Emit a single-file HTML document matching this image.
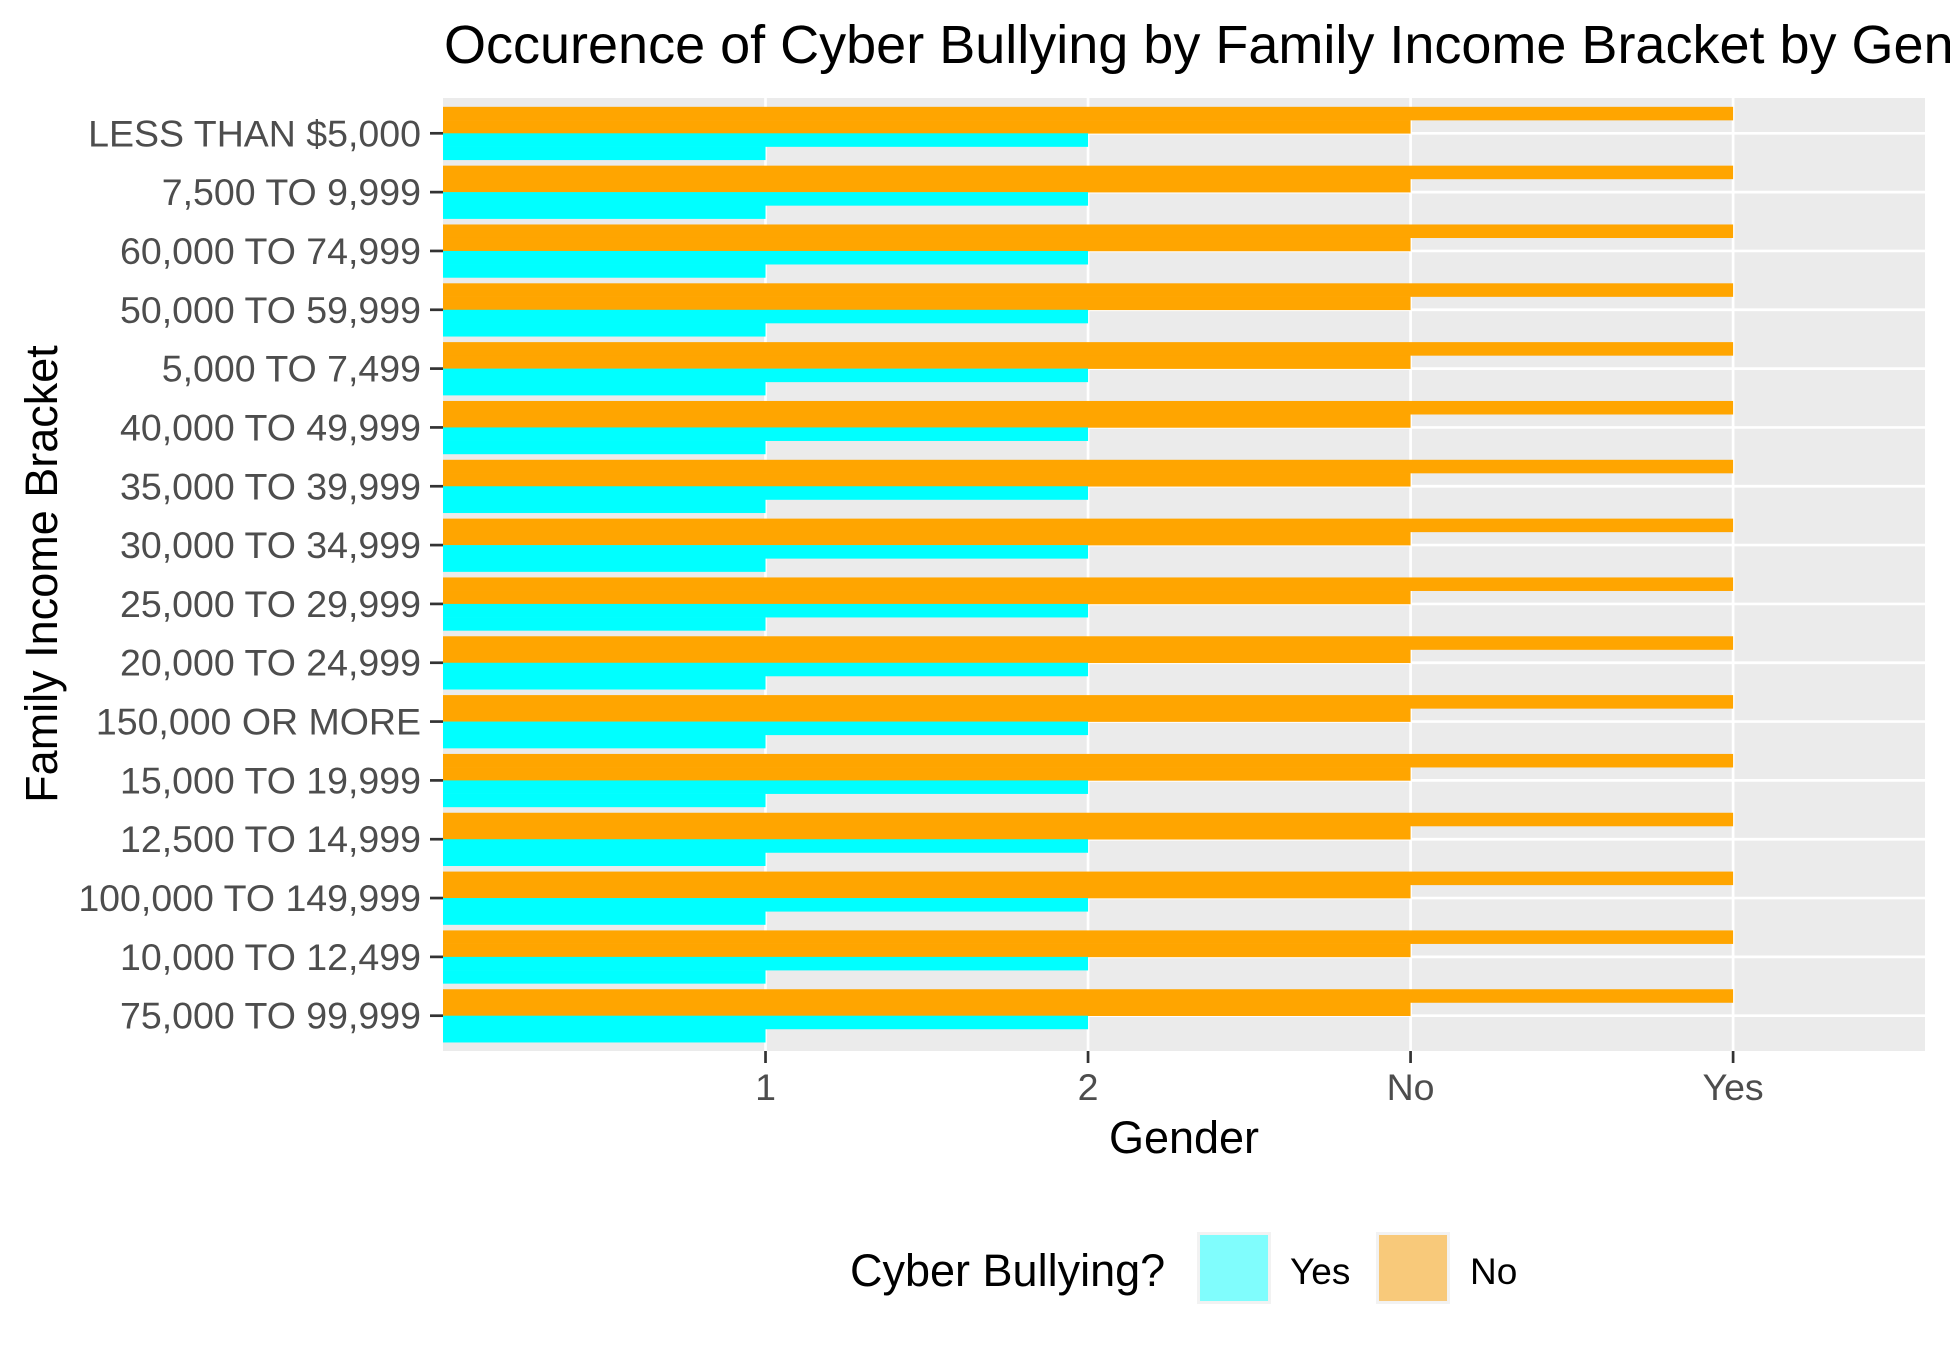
<!DOCTYPE html>
<html><head><meta charset="utf-8"><style>
html,body{margin:0;padding:0;background:#fff;}
svg{display:block;font-family:"Liberation Sans",Arial,sans-serif;}
</style></head><body>
<svg id="chart" width="1950" height="1350" viewBox="0 0 1950 1350" xmlns="http://www.w3.org/2000/svg">
<rect x="0" y="0" width="1950" height="1350" fill="#fff"/>
<text x="444" y="63" font-size="54" fill="#000">Occurence of Cyber Bullying by Family Income Bracket by Gender</text>
<rect x="443" y="98" width="1482" height="953" fill="#ebebeb"/>
<g id="grid"></g>
<g id="bars"></g>
<g id="yaxis"></g>
<g id="xaxis"></g>
<text x="1184" y="1153" font-size="45" text-anchor="middle" fill="#000">Gender</text>
<text transform="translate(57,574) rotate(-90)" font-size="45" text-anchor="middle" fill="#000">Family Income Bracket</text>
<g transform="translate(-8,0)">
<text x="858" y="1286" font-size="45" fill="#000">Cyber Bullying?</text>
<rect x="1205" y="1232" width="74" height="72" fill="#f2f2f2"/>
<rect x="1208" y="1235" width="68" height="66" fill="#80fdfd"/>
<text x="1298" y="1284" font-size="37" fill="#000">Yes</text>
<rect x="1384" y="1232" width="74" height="72" fill="#f2f2f2"/>
<rect x="1387" y="1235" width="68" height="66" fill="#f8c97a"/>
<text x="1478" y="1284" font-size="37" fill="#000">No</text>
</g>
</svg>
<script>
const categories = ["LESS THAN $5,000","7,500 TO 9,999","60,000 TO 74,999","50,000 TO 59,999","5,000 TO 7,499","40,000 TO 49,999","35,000 TO 39,999","30,000 TO 34,999","25,000 TO 29,999","20,000 TO 24,999","150,000 OR MORE","15,000 TO 19,999","12,500 TO 14,999","100,000 TO 149,999","10,000 TO 12,499","75,000 TO 99,999"];
const xTickLabels = ["1","2","No","Yes"];
const noUpperValues = [4,4,4,4,4,4,4,4,4,4,4,4,4,4,4,4];
const noLowerValues = [3,3,3,3,3,3,3,3,3,3,3,3,3,3,3,3];
const yesUpperValues = [2,2,2,2,2,2,2,2,2,2,2,2,2,2,2,2];
const yesLowerValues = [1,1,1,1,1,1,1,1,1,1,1,1,1,1,1,1];

const NS = "http://www.w3.org/2000/svg";
const panelL = 443, panelR = 1925, panelT = 98, panelB = 1051;
const xMin = 0, xMax = 4.595;
function xScale(v){ return panelL + (v - xMin) / (xMax - xMin) * (panelR - panelL); }
const step = (panelB - panelT) / (categories.length + 0.2);
function yCenter(i){ return panelT + step * (0.6 + i); }
const band = step * 0.9;

function mk(tag, attrs, parent){
  const e = document.createElementNS(NS, tag);
  for (const k in attrs) e.setAttribute(k, attrs[k]);
  parent.appendChild(e);
  return e;
}
const grid = document.getElementById('grid');
const bars = document.getElementById('bars');
const yaxis = document.getElementById('yaxis');
const xaxis = document.getElementById('xaxis');

xTickLabels.forEach((lab, j) => {
  const x = xScale(j + 1);
  const gl = mk('line', {x1:x, x2:x, y1:panelT, y2:panelB, stroke:'#fff', 'stroke-width':2.7}, grid);
  
  
  const tk = mk('line', {x1:x, x2:x, y1:panelB, y2:panelB + 12, stroke:'#333', 'stroke-width':2.7}, xaxis);
  
  
  const t = mk('text', {x:x, y:1100, 'font-size':37.5, 'text-anchor':'middle', fill:'#4d4d4d'}, xaxis);
  t.textContent = lab;
  
  
});

categories.forEach((cat, i) => {
  const yc = yCenter(i);
  const gl = mk('line', {x1:panelL, x2:panelR, y1:yc, y2:yc, stroke:'#fff', 'stroke-width':2.7}, grid);
  
  
  const top = yc - band / 2, sub = band / 4;
  const series = [
    [noUpperValues[i], '#ffa500', 'bar-no-upper'],
    [noLowerValues[i], '#ffa500', 'bar-no-lower'],
    [yesUpperValues[i], '#00ffff', 'bar-yes-upper'],
    [yesLowerValues[i], '#00ffff', 'bar-yes-lower']
  ];
  series.forEach((s, k) => {
    const r = mk('rect', {x:xScale(0), y:top + k * sub, width:xScale(s[0]) - xScale(0), height:sub + 0.3, fill:s[1]}, bars);
    
    
  });
  const tk = mk('line', {x1:430, x2:panelL, y1:yc, y2:yc, stroke:'#333', 'stroke-width':2.7}, yaxis);
  
  
  const t = mk('text', {x:421, y:yc + 13, 'font-size':37.5, 'text-anchor':'end', fill:'#4d4d4d'}, yaxis);
  t.textContent = cat;
  
  
});
</script>
</body></html>
